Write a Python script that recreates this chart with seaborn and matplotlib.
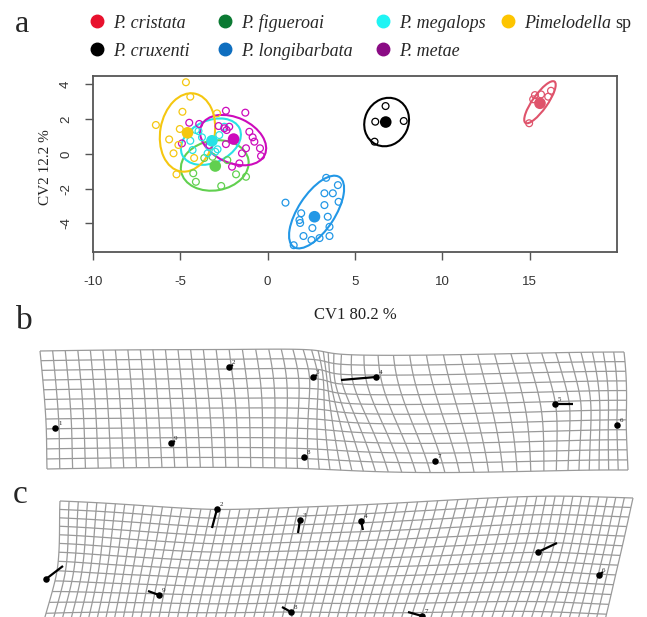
import numpy as np
import pandas as pd
import matplotlib
matplotlib.use("Agg")
import matplotlib.pyplot as plt
import seaborn as sns
from matplotlib.patches import Ellipse
from matplotlib.lines import Line2D
from matplotlib.collections import LineCollection

# ---- panel a: CVA scores ----
species = ["P. cristata", "P. cruxenti", "P. figueroai", "P. longibarbata",
           "P. megalops", "P. metae", "Pimelodella"]
plot_colors = ["#DF536B", "#000000", "#61D04F", "#2297E6", "#28E2E5", "#CD0BBC", "#F5C710"]
legend_colors = ["#E8112D", "#000000", "#0B7A33", "#0E6EBF", "#1FF4F4", "#8A0B84", "#FDC500"]

cristata_cv1 = [15.30, 15.65, 16.06, 16.22, 15.20, 14.97]
cristata_cv2 = [3.38, 3.42, 3.29, 3.63, 3.14, 1.76]
cruxenti_cv1 = [6.16, 6.12, 6.75, 7.79]
cruxenti_cv2 = [1.85, 0.70, 2.75, 1.89]
figueroai_cv1 = [-1.81, -1.24, -4.11, -4.26, -3.16, -3.63, -2.31, -2.66]
figueroai_cv2 = [-1.18, -1.32, -1.61, -1.12, -0.17, -0.24, -0.36, -1.85]
longibarbata_cv1 = [3.35, 4.02, 3.73, 3.25, 4.06, 1.02, 3.25, 1.92, 1.82, 1.86, 3.44,
                    3.54, 2.56, 1.49, 2.05, 2.51, 2.97, 3.54]
longibarbata_cv2 = [-1.38, -1.80, -2.27, -2.27, -2.76, -2.81, -2.95, -3.42, -3.81, -3.98,
                    -3.62, -4.20, -4.27, -5.26, -4.73, -4.96, -4.85, -4.73]
megalops_cv1 = [-3.96, -3.76, -4.43, -4.30, -3.34, -2.77, -2.48, -3.00, -4.11, -2.87, -3.44]
megalops_cv2 = [1.31, 0.95, 0.75, 0.22, 0.41, 1.08, 1.56, 0.12, 1.37, 0.26, 0.03]
metae_cv1 = [-2.39, -1.28, -4.49, -3.92, -2.81, -2.48, -2.35, -2.20, -1.05, -0.86, -0.76,
             -4.91, -3.34, -2.39, -1.24, -0.44, -1.47, -0.38, -2.04, -1.62]
metae_cv2 = [2.48, 2.37, 1.79, 1.72, 1.60, 1.47, 1.37, 1.56, 1.27, 0.95, 0.70,
             0.60, 0.51, 0.56, 0.32, 0.32, 0.03, -0.13, -0.74, -0.55]
pimelodella_cv1 = [-4.68, -4.43, -4.88, -6.40, -5.03, -5.64, -5.11, -5.39, -5.22, -2.90, -4.21]
pimelodella_cv2 = [4.12, 3.29, 2.42, 1.66, 1.43, 0.83, 0.51, 0.03, -1.18, 2.33, -0.24]

centroid_cv1 = [15.59, 6.76, -3.00, 2.68, -3.19, -1.95, -4.59]
centroid_cv2 = [2.91, 1.83, -0.70, -3.62, 0.75, 0.85, 1.21]

ell_cx = [15.59, 6.81, -3.03, 2.80, -3.25, -1.98, -4.59]
ell_cy = [2.97, 1.83, -0.67, -3.35, 0.70, 0.79, 1.23]
ell_major = [2.9, 2.85, 3.91, 4.8, 3.62, 4.0, 4.55]
ell_minor = [0.85, 2.5, 2.87, 2.1, 2.42, 2.6, 3.12]
ell_angle = [55, 65, 10, 57, 25, -25, 80]

# legend slots (pixels from top-left), hand-placed like the original
legend_px = [(97, 21), (97, 49), (225, 21), (225, 49), (383, 21), (383, 49), (508, 21)]

# ---- panels b, c: deformation grids (figure pixel units) ----
b_corner_x = [40, 624, 628, 47]
b_corner_y = [351, 352, 470, 469]
b_lm_x = [55, 229, 313, 376, 555, 617, 435, 304, 171]
b_lm_y = [428, 367, 377, 377, 404, 425, 461, 457, 443]
b_tail_x = [57, 233, 317, 341, 573, 619, 434, 306, 175]
b_tail_y = [427, 365, 375, 380, 404, 424, 464, 456, 441]

c_corner_x = [60, 633, 604, 43]
c_corner_y = [501, 498, 624, 624]
c_lm_x = [46, 217, 300, 361, 538, 599, 422, 291, 159]
c_lm_y = [579, 509, 520, 521, 552, 575, 616, 612, 595]
c_tail_x = [63, 212, 298, 363, 557, 603, 408, 282, 148]
c_tail_y = [566, 528, 533, 530, 543, 572, 612, 607, 591]
lm_labels = ["1", "2", "3", "4", "5", "6", "7", "8", "9"]

sns.set_theme(style="white")
plt.rcParams["font.family"] = ["Liberation Serif", "DejaVu Serif"]
plt.rcParams["axes.unicode_minus"] = False

W_PX, H_PX = 647, 617
fig = plt.figure(figsize=(6.47, 6.17), dpi=100)

groups = [(cristata_cv1, cristata_cv2), (cruxenti_cv1, cruxenti_cv2),
          (figueroai_cv1, figueroai_cv2), (longibarbata_cv1, longibarbata_cv2),
          (megalops_cv1, megalops_cv2), (metae_cv1, metae_cv2),
          (pimelodella_cv1, pimelodella_cv2)]
rows = []
for sp, (xs, ys) in zip(species, groups):
    for x, y in zip(xs, ys):
        rows.append((sp, x, y))
df = pd.DataFrame(rows, columns=["species", "CV1", "CV2"])
cent = pd.DataFrame({"species": species, "CV1": centroid_cv1, "CV2": centroid_cv2})
pal = dict(zip(species, plot_colors))

ax = fig.add_axes([93 / W_PX, 1 - 252 / H_PX, 524 / W_PX, 176 / H_PX])
sns.scatterplot(data=df, x="CV1", y="CV2", hue="species", palette=pal, s=24,
                legend=False, ax=ax, zorder=3)
pts = ax.collections[-1]
pts.set_edgecolors(pts.get_facecolors())
pts.set_facecolors("none")
pts.set_linewidths(0.9)

for i in range(len(species)):
    ax.add_patch(Ellipse((ell_cx[i], ell_cy[i]), ell_major[i], ell_minor[i],
                         angle=ell_angle[i], fill=False, ec=plot_colors[i], lw=1.5, zorder=2))

sns.scatterplot(data=cent, x="CV1", y="CV2", hue="species", palette=pal, s=70,
                linewidth=0, legend=False, ax=ax, zorder=4)

ax.set_xlim(-10, 20)
ax.set_ylim(-5.65, 4.48)
ax.set_xticks([-10, -5, 0, 5, 10, 15])
ax.set_yticks([-4, -2, 0, 2, 4])
for s in ax.spines.values():
    s.set_color("#555555")
    s.set_linewidth(1.3)
ax.tick_params(direction="out", length=6, width=1, color="#555555", labelsize=9.5,
               labelcolor="#333333", left=True, bottom=True)
ax.tick_params(axis="x", pad=11)
ax.tick_params(axis="y", pad=9)
for t in ax.get_xticklabels() + ax.get_yticklabels():
    t.set_fontfamily(["Liberation Sans", "DejaVu Sans"])
plt.setp(ax.get_yticklabels(), rotation=90, va="center")
ax.set_xlabel("CV1 80.2 %", fontsize=12, color="#222222")
ax.set_ylabel("CV2 12.2 %", fontsize=11, color="#222222")
ax.xaxis.set_label_coords(0.5, -0.31)
ax.yaxis.set_label_coords(-0.078, 0.48)

# legend, laid out by hand
for (px, py), name, col in zip(legend_px, species, legend_colors):
    fx, fy = px / W_PX, 1 - py / H_PX
    fig.add_artist(Line2D([fx], [fy], transform=fig.transFigure, ls="", marker="o",
                          ms=9, mfc=col, mec=col))
    t = fig.text(fx + 16 / W_PX, fy, name, fontsize=13, style="italic",
                 ha="left", va="center_baseline")
    if name == "Pimelodella":
        fig.canvas.draw()
        bb = t.get_window_extent()
        fig.text((bb.x1 + 4) / fig.bbox.width, fy, "sp", fontsize=13,
                 ha="left", va="center_baseline")

fig.text(22 / W_PX, 1 - 25 / H_PX, "a", fontsize=23, ha="center", va="center")
fig.text(24 / W_PX, 1 - 321 / H_PX, "b", fontsize=24, ha="center", va="center")
fig.text(20 / W_PX, 1 - 495 / H_PX, "c", fontsize=24, ha="center", va="center")


# ---- deformation grids ----
def tps_warp(src, dst, p):
    src = np.asarray(src, float) / 100
    dst = np.asarray(dst, float) / 100
    p = np.asarray(p, float) / 100
    n = len(src)

    def U(r2):
        with np.errstate(divide="ignore", invalid="ignore"):
            return np.where(r2 > 0, r2 * np.log(r2), 0.0)

    K = U(((src[:, None, :] - src[None, :, :]) ** 2).sum(-1))
    P = np.hstack([np.ones((n, 1)), src])
    L = np.zeros((n + 3, n + 3))
    L[:n, :n] = K
    L[:n, n:] = P
    L[n:, :n] = P.T
    Y = np.zeros((n + 3, 2))
    Y[:n] = dst
    Wt = np.linalg.solve(L, Y)
    Kp = U(((p[:, None, :] - src[None, :, :]) ** 2).sum(-1))
    out = Kp @ Wt[:n] + np.hstack([np.ones((len(p), 1)), p]) @ Wt[n:]
    return out * 100


def draw_grid(axg, cx, cy, lx, ly, tx, ty, ncol, nrow, gain, skip_labels=()):
    corners = np.column_stack([cx, cy]).astype(float)
    lm = np.column_stack([lx, ly]).astype(float)
    tail = np.column_stack([tx, ty]).astype(float)
    src = np.vstack([corners, lm])
    dst = np.vstack([corners, lm + gain * (tail - lm)])

    def bilin(u, v):
        tl, tr, br, bl = corners
        return ((1 - u)[:, None] * (1 - v)[:, None] * tl + u[:, None] * (1 - v)[:, None] * tr
                + u[:, None] * v[:, None] * br + (1 - u)[:, None] * v[:, None] * bl)

    segs = []
    uu = np.linspace(0, 1, 240)
    for i in range(nrow + 1):
        segs.append(tps_warp(src, dst, bilin(uu, np.full_like(uu, i / nrow))))
    vv = np.linspace(0, 1, 60)
    for j in range(ncol + 1):
        segs.append(tps_warp(src, dst, bilin(np.full_like(vv, j / ncol), vv)))
    axg.add_collection(LineCollection(segs, colors="#9a9a9a", linewidths=0.9, zorder=1))

    for k in range(len(lx)):
        axg.plot([lx[k], tx[k]], [ly[k], ty[k]], color="black", lw=1.6, zorder=3,
                 solid_capstyle="butt")
    sns.scatterplot(x=lx, y=ly, color="black", s=22, linewidth=0, ax=axg, zorder=4,
                    legend=False)
    for k in range(len(lx)):
        if k in skip_labels:
            continue
        axg.text(lx[k] + 3, ly[k] - 2, lm_labels[k], fontsize=5, ha="left", va="bottom",
                 color="#222222", zorder=5)


axg = fig.add_axes([0, 0, 1, 1], zorder=-1)
axg.set_xlim(0, W_PX)
axg.set_ylim(H_PX, 0)
axg.axis("off")
draw_grid(axg, b_corner_x, b_corner_y, b_lm_x, b_lm_y, b_tail_x, b_tail_y, 47, 12, 1.0)
draw_grid(axg, c_corner_x, c_corner_y, c_lm_x, c_lm_y, c_tail_x, c_tail_y, 60, 13, 0.45,
          skip_labels=(0, 4))

fig.savefig("out.png", dpi=100)
